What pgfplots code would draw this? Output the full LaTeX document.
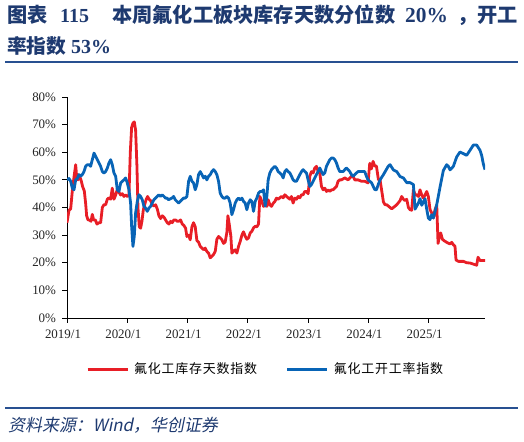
\documentclass[border=0pt]{standalone}
\usepackage{fontspec}
\usepackage{pgfplots}
\usepackage{pgfplotstable}
\pgfplotsset{compat=1.18}
\setmainfont{Liberation Serif}
\newfontfamily\cjk{Noto Sans CJK SC}
\newfontfamily\cjkleg[LetterSpace=6]{Noto Sans CJK SC}
\newfontfamily\cjksrc[FakeSlant=0.2]{Noto Sans CJK SC}
\definecolor{titleblue}{RGB}{30,58,112}
\definecolor{rulec}{RGB}{40,80,145}
\definecolor{cred}{RGB}{232,30,38}
\definecolor{cblue}{RGB}{8,100,182}

\pgfplotstableread{
x y
2019.000 34.5
2019.033 39
2019.061 39.5
2019.088 46
2019.116 51
2019.144 55.5
2019.160 51
2019.182 50
2019.204 51.5
2019.232 50
2019.260 47.5
2019.287 46
2019.309 41.5
2019.326 37
2019.348 35.5
2019.376 35.5
2019.398 35
2019.420 37.5
2019.442 35.5
2019.470 35.5
2019.497 34
2019.530 34.5
2019.558 34.5
2019.586 40
2019.613 41
2019.641 41
2019.669 43
2019.696 43.5
2019.724 43
2019.751 47
2019.779 43
2019.807 44.5
2019.834 46.5
2019.862 45.5
2019.890 44.5
2019.917 45
2019.945 44
2019.972 44.5
2020.000 44
2020.028 44.5
2020.050 60
2020.072 69
2020.094 70.5
2020.116 71
2020.138 68
2020.160 55
2020.177 40
2020.199 33
2020.221 32.5
2020.243 35
2020.265 39
2020.287 41
2020.315 43
2020.337 44
2020.359 43
2020.387 42.5
2020.414 41
2020.442 40.5
2020.470 41
2020.497 39.5
2020.525 37
2020.552 36
2020.580 37
2020.608 36.5
2020.635 35.5
2020.663 34.5
2020.691 34
2020.718 35
2020.746 34.5
2020.773 35.5
2020.801 35.5
2020.829 35
2020.856 35
2020.884 35.5
2020.912 34
2020.939 33.5
2020.967 32.5
2020.989 29.5
2021.017 30
2021.044 28.3
2021.072 33
2021.099 34.5
2021.127 33
2021.155 28
2021.182 27.5
2021.210 25.9
2021.238 25.3
2021.265 24.7
2021.293 25.3
2021.320 24.1
2021.348 23.5
2021.376 21.8
2021.403 22.3
2021.431 23
2021.459 24.1
2021.486 28.5
2021.514 29.5
2021.541 29
2021.569 28.3
2021.597 27
2021.624 27.5
2021.652 31
2021.669 37
2021.691 34
2021.718 29.6
2021.735 23.5
2021.762 24.1
2021.790 24.7
2021.818 23.5
2021.845 25.9
2021.873 27.7
2021.901 30
2021.928 31.2
2021.956 29.6
2021.983 28.5
2022.011 29
2022.039 30.8
2022.066 31.4
2022.094 32.6
2022.122 33.2
2022.149 33
2022.177 34
2022.199 44
2022.232 42.2
2022.260 40.4
2022.287 41
2022.315 40.4
2022.337 42.8
2022.365 41
2022.392 40.4
2022.420 41.5
2022.448 42.2
2022.475 43.4
2022.503 43
2022.558 44
2022.586 43.5
2022.613 44.6
2022.641 44
2022.669 43.5
2022.696 43
2022.724 44
2022.751 41.6
2022.779 43.4
2022.807 43
2022.834 44
2022.862 43.5
2022.890 44.6
2022.917 44.6
2022.945 45.8
2022.972 45.8
2023.000 45
2023.028 51.3
2023.055 53
2023.083 52.5
2023.110 54.3
2023.138 54.9
2023.166 53
2023.193 52.5
2023.221 47.6
2023.249 46.4
2023.276 47
2023.304 45.8
2023.331 46.4
2023.359 45.8
2023.387 46.4
2023.414 46.4
2023.442 47
2023.470 47.6
2023.497 49.5
2023.525 50
2023.552 50
2023.608 50.7
2023.663 50
2023.718 51.3
2023.746 51.3
2023.773 50
2023.829 50
2023.884 49.5
2023.939 49.5
2023.994 48.9
2024.022 56
2024.050 54
2024.077 56.7
2024.105 55
2024.133 55
2024.166 50
2024.193 50
2024.221 46
2024.249 42
2024.276 41
2024.304 41
2024.359 40
2024.387 39.5
2024.414 40
2024.470 41
2024.525 42.5
2024.552 44
2024.580 43
2024.608 42.5
2024.635 43
2024.663 40
2024.691 39.2
2024.718 39
2024.746 46.4
2024.773 44.6
2024.801 44.6
2024.829 44
2024.856 46.4
2024.884 44.5
2024.912 43.4
2024.939 44.5
2024.967 45.8
2024.994 44
2025.022 39.2
2025.050 38
2025.077 36.2
2025.105 39.2
2025.133 40.9
2025.155 27
2025.177 29.5
2025.199 30.8
2025.227 28.5
2025.254 28
2025.298 27.4
2025.354 26.8
2025.381 27.4
2025.409 26.5
2025.436 26
2025.453 21
2025.492 20.5
2025.575 20.5
2025.630 20
2025.685 19.9
2025.740 19.5
2025.796 19.1
2025.818 22
2025.851 20.8
2025.934 20.8
}\reddata

\pgfplotstableread{
x y
2019.000 50
2019.033 50.5
2019.061 49.5
2019.088 47
2019.116 46.4
2019.144 50
2019.171 50.5
2019.199 51.9
2019.227 51.3
2019.254 51.9
2019.282 53
2019.309 54.9
2019.337 55.5
2019.365 55.5
2019.392 54.9
2019.420 57.3
2019.448 59.7
2019.475 58.5
2019.503 57.3
2019.530 56.1
2019.558 54.9
2019.586 53
2019.613 52.5
2019.641 53
2019.669 54.3
2019.696 56.1
2019.724 57.3
2019.751 55.5
2019.779 52.5
2019.807 51.3
2019.834 46.4
2019.862 45.8
2019.890 48.9
2019.917 49.5
2019.945 50
2019.972 50.7
2020.000 48.9
2020.028 46.4
2020.055 41.6
2020.072 33.2
2020.094 25.9
2020.116 29.6
2020.138 38
2020.166 42.2
2020.193 44.6
2020.221 44
2020.249 42.8
2020.276 40.4
2020.304 39.8
2020.331 38.6
2020.359 39.8
2020.387 40.4
2020.414 41.6
2020.442 42.8
2020.470 43.4
2020.497 44
2020.525 44.6
2020.552 44
2020.580 44.6
2020.608 44
2020.635 43.4
2020.657 43.4
2020.685 42.8
2020.740 43.4
2020.768 44
2020.796 42.8
2020.823 42.2
2020.851 41.6
2020.878 42.2
2020.906 42.8
2020.934 43.4
2020.961 43.4
2020.989 44
2021.017 49.5
2021.044 51.3
2021.072 49.5
2021.099 48.9
2021.127 46.4
2021.155 48.3
2021.182 51.9
2021.210 53
2021.238 51.9
2021.265 50.7
2021.293 51.3
2021.320 50
2021.348 51.3
2021.376 51.9
2021.403 53
2021.431 53.7
2021.459 53
2021.486 51.9
2021.514 49.5
2021.541 45.2
2021.569 44
2021.597 43.4
2021.624 43.4
2021.652 44
2021.680 43.4
2021.707 41.6
2021.735 37.4
2021.762 39.2
2021.790 41.6
2021.818 42.8
2021.845 43.4
2021.873 42.8
2021.901 43.4
2021.928 42.2
2021.956 41.6
2021.983 39.2
2022.011 41.6
2022.039 42.8
2022.066 42.2
2022.094 38.6
2022.122 42.2
2022.149 43.4
2022.177 45.2
2022.204 45.8
2022.232 45.8
2022.260 46.4
2022.287 40.5
2022.315 44
2022.337 50
2022.365 52.5
2022.392 53.7
2022.448 54.9
2022.475 54.3
2022.503 53
2022.530 52.5
2022.558 51.9
2022.586 50.7
2022.613 53
2022.641 53.7
2022.669 53
2022.696 52.5
2022.724 51.3
2022.751 50
2022.779 49.5
2022.807 49.5
2022.834 50.7
2022.862 51.9
2022.890 53
2022.917 53.7
2022.945 53
2022.972 52.5
2023.000 50
2023.028 47.6
2023.055 48.3
2023.083 49.5
2023.110 50.7
2023.138 51.9
2023.166 53
2023.193 54.3
2023.221 53
2023.249 51.9
2023.276 52.5
2023.304 54.9
2023.331 56.1
2023.359 57.3
2023.387 57.9
2023.414 57.9
2023.442 57.3
2023.470 56.1
2023.497 54.3
2023.525 53
2023.552 53
2023.580 53
2023.608 53.7
2023.635 54.3
2023.663 53.7
2023.691 53
2023.718 51.9
2023.746 51.3
2023.773 51.9
2023.801 52.5
2023.829 53
2023.856 53
2023.884 53
2023.912 53
2023.939 53
2023.967 51.3
2023.994 50
2024.050 49
2024.105 46.5
2024.133 46.4
2024.166 48.5
2024.193 50
2024.249 51.9
2024.304 54
2024.331 55
2024.359 55.5
2024.414 53.6
2024.470 53
2024.525 51.2
2024.580 50.7
2024.635 49
2024.691 49
2024.746 48.3
2024.773 39.4
2024.829 41.6
2024.856 43.2
2024.884 40.8
2024.939 43.2
2024.967 39.4
2024.994 36.2
2025.022 35.6
2025.050 37.4
2025.077 36.2
2025.105 38.6
2025.133 41
2025.188 47.4
2025.243 53.4
2025.298 55.5
2025.326 54.9
2025.354 53.6
2025.409 54.9
2025.464 58.3
2025.519 60.1
2025.575 59.5
2025.630 58.9
2025.685 60.7
2025.740 62.6
2025.796 62.6
2025.851 60.7
2025.878 58.9
2025.906 55.8
2025.934 53.7
}\bluedata

\begin{document}
\begin{tikzpicture}[x=1bp,y=1bp]
\useasboundingbox (0,0) rectangle (524,442);
% title
\begin{scope}[every node/.style={anchor=base west, inner sep=0pt, text=titleblue}]
\node at (7,419.3) {\fontsize{20.3}{22}\selectfont\cjk\bfseries 图表};
\node at (60,419.3) {\fontsize{20}{22}\selectfont\bfseries 115};
\node at (112,419.3) {\fontsize{20.3}{22}\selectfont\cjk\bfseries 本周氟化工板块库存天数分位数};
\node at (405,419.3) {\fontsize{21.5}{22}\selectfont\bfseries 20\%};
\node at (457,419.3) {\fontsize{20.3}{22}\selectfont\cjk\bfseries ，开工};
\node at (7,388) {\fontsize{19.8}{22}\selectfont\cjk\bfseries 率指数};
\node at (71,388) {\fontsize{20}{22}\selectfont\bfseries 53\%};
\node at (8,10) {\fontsize{17}{17}\selectfont\cjksrc 资料来源：{\itshape Wind}，华创证券};
\end{scope}
\draw[rulec, line width=1.6bp] (5,379.7) -- (518,379.7);
\draw[rulec, line width=1.8bp] (5,33.7) -- (518,33.7);

\begin{axis}[
  at={(67bp,124bp)}, anchor=south west,
  width=418bp, height=221bp, scale only axis,
  xmin=2019, xmax=2025.934, ymin=0, ymax=80,
  axis lines=left,
  axis line style={-, line width=0.9bp, black},
  xtick={2019,2020,2021,2022,2023,2024,2025},
  xticklabels={2019/1,2020/1,2021/1,2022/1,2023/1,2024/1,2025/1},
  ytick={0,10,20,30,40,50,60,70,80},
  yticklabel={\pgfmathprintnumber{\tick}\%},
  /pgf/number format/assume math mode=true,
  tick align=outside, major tick length=5bp,
  tick style={line width=0.8bp, black},
  ticklabel style={font=\fontsize{13}{13}\selectfont, text=black!85},
  xticklabel style={xshift=-4bp, yshift=-3bp},
  yticklabel style={xshift=-2.5bp},
  legend style={draw=none, fill=none, at={(0.0455,-0.2308)}, anchor=west,
    inner sep=0pt, font=\cjkleg\fontsize{13}{13}\selectfont,
    /tikz/every odd column/.append style={column sep=3bp},
    /tikz/every even column/.append style={column sep=27bp}},
  legend columns=2,
  legend cell align=left,
  legend image code/.code={\draw[#1, line width=3bp] (0bp,0bp) -- (40bp,0bp);},
]
\addplot[cred, line width=2.8bp, line join=round, mark=none] table {\reddata};
\addlegendentry{氟化工库存天数指数}
\addplot[cblue, line width=2.8bp, line join=round, mark=none] table {\bluedata};
\addlegendentry{氟化工开工率指数}
\end{axis}
\end{tikzpicture}
\end{document}
